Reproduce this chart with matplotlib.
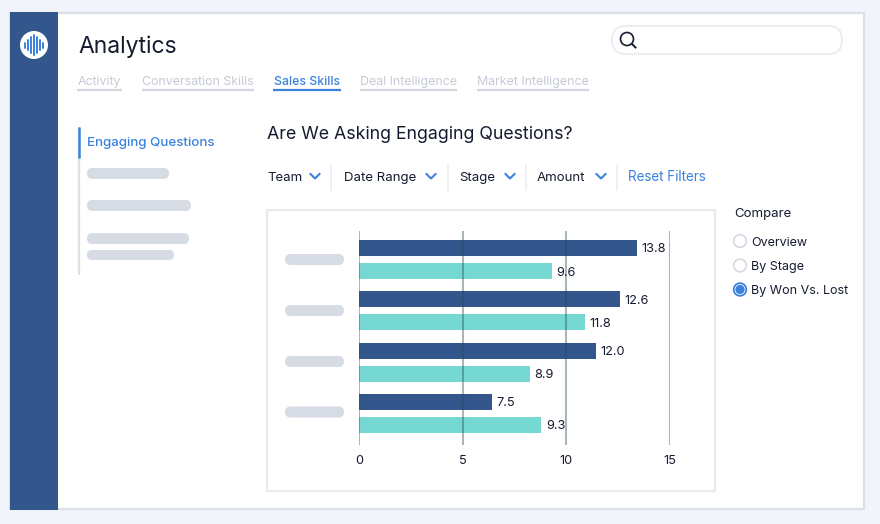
import matplotlib
matplotlib.use('Agg')
import matplotlib.pyplot as plt
from matplotlib.patches import Circle, FancyBboxPatch, Rectangle

plt.rcParams['font.family'] = ['Inter', 'Noto Sans', 'DejaVu Sans']

# Chart data, bar lengths as drawn (they differ a bit from the printed labels)
won_lengths = [13.4, 12.6, 11.45, 6.4]
lost_lengths = [9.3, 10.9, 8.25, 8.8]
won_labels = ['13.8', '12.6', '12.0', '7.5']
lost_labels = ['9.6', '11.8', '8.9', '9.3']
x_ticks = [0, 5, 10, 15]

# Page text
tabs = ['Activity', 'Conversation Skills', 'Sales Skills', 'Deal Intelligence', 'Market Intelligence']
tab_left = [77, 142, 273, 360, 476.5]
tab_right = [122, 254, 341, 457, 589]
filters = ['Team', 'Date Range', 'Stage', 'Amount']
filter_left = [267, 344, 459, 537]
chevrons = [315, 431, 510, 601]
separators = [331, 448, 526, 617]
radios = ['Overview', 'By Stage', 'By Won Vs. Lost']
radio_y = [241, 265.5, 289.5]

NAVY = '#33568C'
TEAL = '#75D8D2'
BLUE = '#3A82DC'
INK = '#161C30'
PILL = '#D6DBE4'
W, H = 880, 524

fig = plt.figure(figsize=(W / 100, H / 100), dpi=100, facecolor='#F2F4FB')

# Page layer in pixel coordinates
ui = fig.add_axes([0, 0, 1, 1])
ui.set_xlim(0, W)
ui.set_ylim(H, 0)
ui.axis('off')


def pill(x0, y0, x1, y1, fc=PILL, ec='none', lw=0):
    r = (y1 - y0) / 2
    ui.add_patch(FancyBboxPatch((x0 + r, y0 + r), x1 - x0 - 2 * r, 0,
                                boxstyle='round,pad=%f,rounding_size=%f' % (r, r),
                                fc=fc, ec=ec, lw=lw))


ui.add_patch(Rectangle((10, 13), 854, 496, fc='white', ec='#DCDFE8', lw=1.6))
ui.add_patch(Rectangle((10, 12), 48, 498, fc=NAVY, ec='none'))

# Logo
ui.add_patch(Circle((34, 45), 14, fc='white', ec='none'))
for dx, half in zip([-9, -6, -3, 0, 3, 6, 9], [2.5, 5, 8, 10, 8, 5, 2.5]):
    ui.plot([34 + dx, 34 + dx], [45 - half, 45 + half], color=BLUE, lw=1.4,
            solid_capstyle='round')

ui.text(78, 53, 'Analytics', fontsize=16.5, color=INK, va='baseline', ha='left')

# Search box
pill(612, 26, 842, 54, fc='white', ec='#ECEEF4', lw=1.6)
ui.add_patch(Circle((627, 39), 6.5, fc='none', ec=INK, lw=1.2))
ui.plot([632, 635.5], [44, 47.5], color=INK, lw=1.4)

# Tabs
for name, x0, x1 in zip(tabs, tab_left, tab_right):
    active = name == 'Sales Skills'
    ui.text((x0 + x1) / 2, 85.0, name, fontsize=8.9, ha='center', va='baseline',
            color=BLUE if active else '#C4CAD5', fontweight='medium' if active else 'normal')
    ui.plot([x0, x1], [89.5, 89.5], color=BLUE if active else '#D3D8E0', lw=1.6,
            solid_capstyle='butt')

# Left nav
ui.plot([78.5, 78.5], [127, 275], color='#DDE1E8', lw=1.6, solid_capstyle='butt')
ui.plot([78.5, 78.5], [127, 158], color=BLUE, lw=1.8, solid_capstyle='butt')
ui.text(87, 146, 'Engaging Questions', fontsize=9.6, color=BLUE, va='baseline',
        fontweight='medium')
pill(87, 168, 169, 179)
pill(87, 200, 191, 211)
pill(87, 233, 189, 244)
pill(87, 250, 174, 260)

ui.text(267, 139, 'Are We Asking Engaging Questions?', fontsize=12.8, color=INK, va='baseline')

# Filter row
for name, x0 in zip(filters, filter_left):
    ui.text(x0, 181, name, fontsize=9.5, color=INK, va='baseline')
for cx in chevrons:
    ui.plot([cx - 4.5, cx, cx + 4.5], [174, 178.5, 174], color=BLUE, lw=1.5)
for sx in separators:
    ui.plot([sx, sx], [165, 190], color='#ECEEF2', lw=1.2)
ui.text(628, 181, 'Reset Filters', fontsize=9.7, color=BLUE, va='baseline')

# Compare options
ui.text(734, 217, 'Compare', fontsize=9.5, color=INK, va='baseline')
for name, y in zip(radios, radio_y):
    picked = name == radios[-1]
    ui.add_patch(Circle((740, y), 6.3, fc='white', ec=BLUE if picked else '#D6DBE3', lw=1.3))
    if picked:
        ui.add_patch(Circle((740, y), 4.6, fc=BLUE, ec='none'))
    ui.text(751, y + 4.5, name, fontsize=9.0, color=INK, va='baseline')

# Chart frame and category placeholders
ui.add_patch(Rectangle((266.5, 209.5), 448, 281.5, fc='white', ec='#E8EAEE', lw=1.6))
for y in [259.5, 310.5, 361.5, 412]:
    pill(285, y - 5.5, 344, y + 5.5)

# Chart axes, placed so 0..15 and the bar rows land on the reference pixels
x0_px, x1_px, top_px, bot_px = 359, 670, 231, 445
row_px, first_px = 51.3, 259.5
ax = fig.add_axes([x0_px / W, 1 - bot_px / H, (x1_px - x0_px) / W, (bot_px - top_px) / H])
ax.patch.set_alpha(0)
ax.set_xlim(0, 15)
ax.set_ylim((bot_px - first_px) / row_px, (top_px - first_px) / row_px)

rows = range(len(won_lengths))
height = 16 / row_px
offset = 11.5 / row_px
won_y = [i - offset for i in rows]
lost_y = [i + offset for i in rows]
ax.barh(won_y, won_lengths, height=height, color=NAVY, zorder=2)
ax.barh(lost_y, lost_lengths, height=height, color=TEAL, zorder=2)

for y, v, s in zip(won_y, won_lengths, won_labels):
    ax.annotate(s, (v, y), xytext=(3.2, 0), textcoords='offset points', fontsize=9.2,
                color=INK, va='center_baseline', zorder=4)
for y, v, s in zip(lost_y, lost_lengths, lost_labels):
    ax.annotate(s, (v, y), xytext=(3.2, 0), textcoords='offset points', fontsize=9.2,
                color=INK, va='center_baseline', zorder=4)

ax.set_xticks(x_ticks)
ax.set_yticks([])
ax.tick_params(axis='x', length=0, pad=7.5, labelsize=9.2, labelcolor=INK)
ax.grid(True, axis='x', color='#2A4A5C', alpha=0.4, lw=1.5, zorder=3)
ax.set_axisbelow(False)
for spine in ax.spines.values():
    spine.set_visible(False)

fig.savefig('out.png', dpi=100, facecolor=fig.get_facecolor())
